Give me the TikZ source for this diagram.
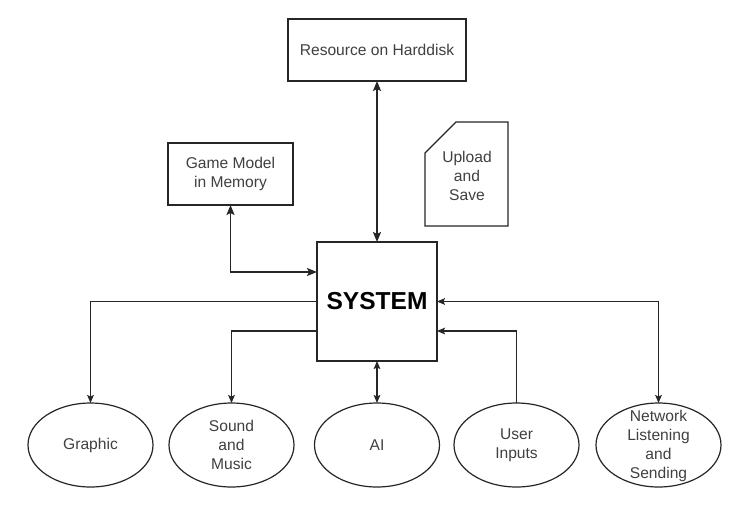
\documentclass[tikz,border=0pt]{standalone}
\usepackage{fontspec}
\setmainfont{Liberation Sans}
\usetikzlibrary{shapes.geometric,arrows.meta}
\begin{document}
\begin{tikzpicture}[x=0.75pt,y=-0.75pt,
  box/.style={draw=black!85,line width=1pt,inner sep=0pt,outer sep=0pt,fill=white},
  ell/.style={ellipse,draw=black!85,line width=0.9pt,inner sep=0pt,outer sep=0pt,minimum width=93.75pt,minimum height=63pt},
  txt/.style={align=center,text=black!75,font=\fontsize{11.7}{14.25}\selectfont,inner sep=0pt},
  bigtip/.tip={Stealth[length=7.5pt,width=6pt,inset=1.5pt]},
  smalltip/.tip={Stealth[length=6pt,width=5pt,inset=1.2pt]},
  bigconn/.style={line width=1.4pt,draw=black!85},
  smallconn/.style={line width=0.8pt,draw=black!85}
]
\useasboundingbox[fill=white] (0,0) rectangle (746,507);
% boxes
\node[box,minimum width=133.5pt,minimum height=46.5pt] (res) at (377,50) {};
\node[txt] (restxt) at (res) {Resource on Harddisk};
\node[box,minimum width=93.75pt,minimum height=46.5pt] (gm) at (230.5,174) {};
\node[txt] (gmtxt) at (gm) {Game Model\\in Memory};
\node[box,minimum width=90pt,minimum height=89.25pt] (sys) at (377,301.5) {};
\node[inner sep=0pt,font=\fontsize{18.4}{20}\selectfont\bfseries] (systxt) at (sys) {SYSTEM};
% card
\draw[line width=1pt,draw=black!85] (425,153) -- (456,122) -- (508,122) -- (508,226) -- (425,226) -- cycle;
\node[txt] (card) at (467,176) {Upload\\and\\Save};
% ellipses
\node[ell] (g) at (90.5,445) {};
\node[txt] (gtxt) at (g) {Graphic};
\node[ell] (snd) at (231.5,445) {};
\node[txt] (sndtxt) at (snd) {Sound\\and\\Music};
\node[ell] (ai) at (377,445) {};
\node[txt] (aitxt) at (ai) {AI};
\node[ell] (ui) at (516.5,445) {};
\node[txt] (uitxt) at (ui) {User\\Inputs};
\node[ell] (net) at (658.5,445) {};
\node[txt] (nettxt) at ([yshift=-1pt]net) {Network\\Listening\\and\\Sending};
% connectors
\draw[bigconn,bigtip-bigtip] (res.south) -- (sys.north);
\draw[bigconn,bigtip-bigtip] (gm.south) |- ([yshift=-22.5pt]sys.north west);
\draw[smallconn,-smalltip] (sys.west) -| (g.north);
\draw[smallconn,-smalltip] ([yshift=22.5pt]sys.south west) -| (snd.north);
\draw[smallconn,smalltip-smalltip] (sys.south) -- (ai.north);
\draw[smallconn,-smalltip] (ui.north) |- ([yshift=22.5pt]sys.south east);
\draw[smallconn,smalltip-smalltip] (sys.east) -| (net.north);
\end{tikzpicture}
\end{document}
